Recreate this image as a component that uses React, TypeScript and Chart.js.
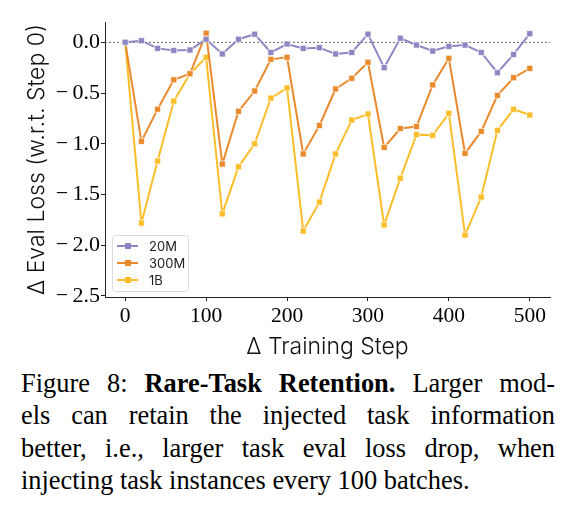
import React, { useEffect, useRef } from "react";
import { Chart, registerables } from "chart.js";

Chart.register(...registerables);

const steps = [0, 20, 40, 60, 80, 100, 120, 140, 160, 180, 200, 220, 240, 260, 280, 300, 320, 340, 360, 380, 400, 420, 440, 460, 480, 500];
const loss20M = [0.0, 0.016, -0.06, -0.08, -0.076, 0.03, -0.115, 0.03, 0.08, -0.1, -0.017, -0.06, -0.053, -0.115, -0.1, 0.08, -0.25, 0.04, -0.027, -0.086, -0.04, -0.027, -0.1, -0.3, -0.12, 0.085];
const loss300M = [0.0, -0.976, -0.66, -0.37, -0.31, 0.089, -1.2, -0.68, -0.48, -0.168, -0.148, -1.1, -0.82, -0.46, -0.355, -0.197, -1.036, -0.85, -0.83, -0.42, -0.158, -1.095, -0.878, -0.523, -0.349, -0.257];
const loss1B = [0.0, -1.78, -1.17, -0.58, -0.31, -0.148, -1.69, -1.227, -1.0, -0.55, -0.45, -1.86, -1.575, -1.1, -0.766, -0.707, -1.8, -1.34, -0.91, -0.917, -0.7, -1.9, -1.525, -0.868, -0.66, -0.717];
const seriesLabels = ["20M", "300M", "1B"];
const seriesColors = ["#8c86c3", "#ea8a2d", "#fbbe2b"];
const xTicks = [0, 100, 200, 300, 400, 500];
const yTicks = [0, -0.5, -1, -1.5, -2, -2.5];

const SANS = "Inter, 'Open Sans', sans-serif";
const SERIF = "'Liberation Serif', 'Times New Roman', serif";

const zeroLine = {
  id: "zeroLine",
  beforeDatasetsDraw(chart: any) {
    const { ctx, chartArea, scales } = chart;
    const y = scales.y.getPixelForValue(0);
    ctx.save();
    ctx.strokeStyle = "#444";
    ctx.lineWidth = 0.8;
    ctx.setLineDash([2, 2]);
    ctx.beginPath();
    ctx.moveTo(chartArea.left, y);
    ctx.lineTo(chartArea.right, y);
    ctx.stroke();
    ctx.restore();
  },
};

const innerLegend = {
  id: "innerLegend",
  afterDraw(chart: any) {
    const { ctx, chartArea } = chart;
    const x0 = chartArea.left + 7;
    const y0 = chartArea.bottom - 62;
    const w = 76;
    const h = 56;
    ctx.save();
    ctx.fillStyle = "rgba(255,255,255,0.85)";
    ctx.strokeStyle = "#dddddd";
    ctx.lineWidth = 1;
    ctx.beginPath();
    (ctx as any).roundRect(x0 + 0.5, y0 + 0.5, w, h, 3);
    ctx.fill();
    ctx.stroke();
    chart.data.datasets.forEach((ds: any, i: number) => {
      const cy = y0 + 11 + i * 17;
      ctx.strokeStyle = ds.borderColor;
      ctx.lineWidth = 2;
      ctx.beginPath();
      ctx.moveTo(x0 + 5, cy);
      ctx.lineTo(x0 + 26, cy);
      ctx.stroke();
      ctx.fillStyle = ds.backgroundColor;
      ctx.fillRect(x0 + 13, cy - 3, 6, 6);
      ctx.fillStyle = "#222";
      ctx.font = `13px ${SANS}`;
      ctx.textBaseline = "middle";
      ctx.textAlign = "left";
      ctx.fillText(ds.label, x0 + 37, cy + 1);
    });
    ctx.restore();
  },
};

export default function App() {
  const ref = useRef<HTMLCanvasElement>(null);
  useEffect(() => {
    document.body.style.margin = "0";
    const series = [loss20M, loss300M, loss1B];
    const chart = new Chart(ref.current as HTMLCanvasElement, {
      type: "line",
      data: {
        datasets: series.map((vals, i) => ({
          label: seriesLabels[i],
          data: steps.map((s, j) => ({ x: s, y: vals[j] })),
          borderColor: seriesColors[i],
          backgroundColor: seriesColors[i],
          borderWidth: 2,
          pointStyle: "rect",
          pointRadius: 4.3,
          pointBorderColor: "#ffffff",
          pointBorderWidth: 0.7,
          pointBackgroundColor: seriesColors[i],
          tension: 0,
        })),
      },
      options: {
        animation: false,
        responsive: false,
        devicePixelRatio: 1,
        layout: { padding: { top: 22, right: 25, left: 0, bottom: 0 } },
        plugins: { legend: { display: false }, tooltip: { enabled: false } },
        scales: {
          x: {
            type: "linear",
            min: -25,
            max: 525,
            afterBuildTicks: (s: any) => {
              s.ticks = xTicks.map((v) => ({ value: v }));
            },
            afterFit: (s: any) => {
              s.height = 68;
            },
            grid: { drawOnChartArea: false, drawTicks: true, tickLength: 4, color: "#222", tickWidth: 1 },
            border: { display: true, color: "#222", width: 1 },
            ticks: { color: "#000", font: { family: SERIF, size: 21.5 }, padding: 2, maxRotation: 0 },
            title: { display: true, text: "Δ Training Step", color: "#111", font: { family: SANS, size: 23, weight: "300" }, padding: { top: 0, bottom: 4 } },
          },
          y: {
            type: "linear",
            min: -2.51,
            max: 0.2,
            afterBuildTicks: (s: any) => {
              s.ticks = yTicks.map((v) => ({ value: v }));
            },
            afterFit: (s: any) => {
              s.width = 105;
            },
            grid: { drawOnChartArea: false, drawTicks: true, tickLength: 4, color: "#222", tickWidth: 1 },
            border: { display: true, color: "#222", width: 1 },
            ticks: {
              color: "#000",
              font: { family: SERIF, size: 22 },
              padding: 1,
              callback: (v: any) => (Number(v) < 0 ? "\u2212\u2009" + Math.abs(Number(v)).toFixed(1) : Number(v).toFixed(1)),
            },
            title: { display: true, text: "Δ Eval Loss (w.r.t. Step 0)", color: "#111", font: { family: SANS, size: 23, weight: "300" }, padding: { top: 23, bottom: 0 } },
          },
        },
      },
      plugins: [zeroLine, innerLegend],
    } as any);
    return () => chart.destroy();
  }, []);

  const lineStyle: React.CSSProperties = {
    textAlign: "justify",
    textAlignLast: "justify" as any,
    whiteSpace: "nowrap",
    height: 32.3,
  };

  return (
    <div style={{ position: "relative", width: 575, height: 518, background: "#fff", overflow: "hidden" }}>
      <canvas ref={ref} width={575} height={365} style={{ position: "absolute", left: 0, top: 0, width: 575, height: 365 }} />
      <div
        style={{
          position: "absolute",
          left: 21,
          top: 367,
          width: 534,
          fontFamily: SERIF,
          fontSize: 26.4,
          lineHeight: "32.3px",
          color: "#000",
        }}
      >
        <div style={lineStyle}>
          Figure 8: <b>Rare-Task Retention.</b> Larger mod-
        </div>
        <div style={lineStyle}>els can retain the injected task information</div>
        <div style={lineStyle}>better, i.e., larger task eval loss drop, when</div>
        <div style={{ ...lineStyle, textAlignLast: "left" as any }}>injecting task instances every 100 batches.</div>
      </div>
    </div>
  );
}
